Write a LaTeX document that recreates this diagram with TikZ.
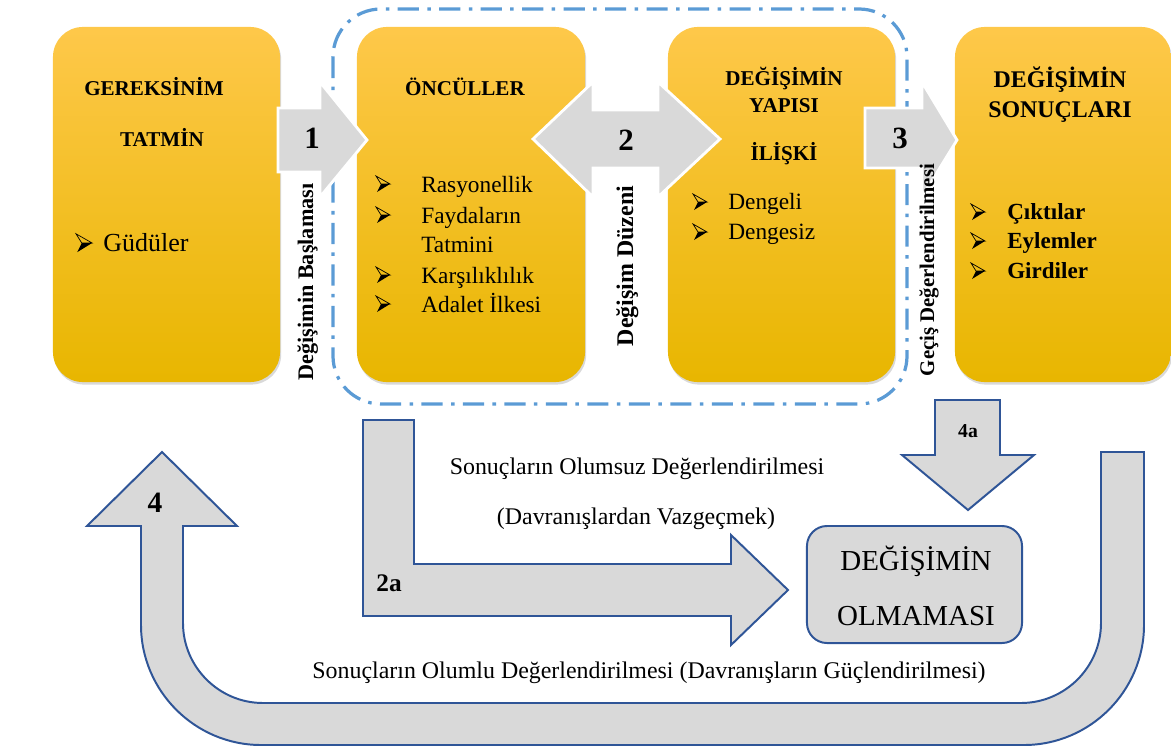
\documentclass[tikz,border=0pt]{standalone}
\usepackage{fontspec}
\setmainfont{Liberation Serif}
\usetikzlibrary{shadows}

\definecolor{oTop}{HTML}{FEC84A}
\definecolor{oMid}{HTML}{FFC000}
\definecolor{oBot}{HTML}{E8B600}
\definecolor{gfill}{HTML}{D9D9D9}
\definecolor{bline}{HTML}{2F5597}
\definecolor{dline}{HTML}{5B9BD5}

\tikzset{
  obox/.style={rounded corners=0.75cm, top color=oTop, middle color=oMid, bottom color=oBot,
    minimum height=8.875cm, drop shadow={opacity=.3, shadow xshift=.8pt, shadow yshift=-1.8pt}},
  warrow/.style={fill=gfill, draw=white, line width=2pt},
  barrow/.style={fill=gfill, draw=bline, line width=1.4pt},
  tit/.style={font=\bfseries\fontsize{15}{15}\selectfont, inner sep=0pt, anchor=base},
  itm/.style={font=\fontsize{16.6}{16.6}\selectfont, inner sep=0pt, anchor=base west},
  num/.style={font=\bfseries\fontsize{22}{22}\selectfont, inner sep=0pt, anchor=base},
  vlab/.style={rotate=90, inner sep=0pt, anchor=base},
  alt/.style={font=\fontsize{17}{17}\selectfont, inner sep=0pt, anchor=base},
  okuc/.pic={
    \draw[line width=.5pt, line join=miter] (0,-8) -- (14,0) -- (5,0) -- cycle;
    \fill (5,0) -- (14,0) -- (1,8) -- cycle;
  }
}

\begin{document}
\begin{tikzpicture}[x=0.025cm, y=-0.025cm]
  \useasboundingbox (0,0) rectangle (1171,751);

  % boxes
  \node[obox, minimum width=5.675cm] (gereksinim) at (166.5,204.5) {};
  \node[obox, minimum width=5.7cm] (onculler) at (471,204.5) {};
  \node[obox, minimum width=5.675cm] (yapi) at (781.5,204.5) {};
  \node[obox, minimum width=5.4cm] (sonuc) at (1063,204.5) {};

  \draw[dline, line width=2.3pt, dash pattern=on 15pt off 6pt on 2.5pt off 6pt,
    rounded corners=1.2cm] (333,9) rectangle (907,404);

  % 1, 2, 3
  \draw[warrow] (278,108) -- (320,108) -- (320,82) -- (367,140) -- (320,197)
    -- (320,172) -- (278,172) -- cycle;
  \draw[warrow] (533,139) -- (593,82) -- (593,110) -- (658,110) -- (658,82)
    -- (720,139) -- (658,197) -- (658,168) -- (593,168) -- (593,197) -- cycle;
  \draw[warrow] (865,108) -- (922,108) -- (922,82) -- (957,140) -- (922,197)
    -- (922,168) -- (865,168) -- cycle;
  \node[num] (n1) at (312,148) {1};
  \node[num] (n2) at (626,150) {2};
  \node[num] (n3) at (900,148) {3};

  \node[vlab, font=\bfseries\fontsize{15.8}{15.8}\selectfont] (baslama) at (313,282) {Değişimin Başlaması};
  \node[vlab, font=\bfseries\fontsize{17}{17}\selectfont] (duzen) at (633,266) {Değişim Düzeni};
  \node[vlab, font=\bfseries\fontsize{14.8}{14.8}\selectfont] (gecis) at (934,270) {Geçiş Değerlendirilmesi};

  % box texts
  \node[tit] (gerek) at (154,95) {GEREKSİNİM};
  \node[tit] (tatmin) at (162,146) {TATMİN};
  \pic[scale=1.15] at (76,243) {okuc};
  \node[itm, font=\fontsize{18.5}{18.5}\selectfont] (gudu) at (103,251) {Güdüler};

  \node[tit] (onc) at (465,95) {ÖNCÜLLER};
  \foreach \t/\y [count=\i] in {Rasyonellik/192, Faydaların/223, Karşılıklılık/283, Adalet İlkesi/312}{
    \pic at (376,\y-8) {okuc};
    \node[itm] (oi\i) at (421,\y) {\t};
  }
  \node[itm] (tatmini) at (421,252) {Tatmini};

  \node[tit] (yap1) at (784,85) {DEĞİŞİMİN};
  \node[tit] (yap2) at (784,112) {YAPISI};
  \node[tit] (iliski) at (784,160) {İLİŞKİ};
  \foreach \t/\y [count=\i] in {Dengeli/209, Dengesiz/239}{
    \pic at (693,\y-7) {okuc};
    \node[itm] (yi\i) at (728,\y) {\t};
  }

  \node[tit, font=\bfseries\fontsize{17}{17}\selectfont] (son1) at (1060,87) {DEĞİŞİMİN};
  \node[tit, font=\bfseries\fontsize{17}{17}\selectfont] (son2) at (1060,117) {SONUÇLARI};
  \foreach \t/\y [count=\i] in {Çıktılar/219, Eylemler/248, Girdiler/278}{
    \pic at (971,\y-7) {okuc};
    \node[itm, font=\bfseries\fontsize{16.4}{16.4}\selectfont] (si\i) at (1007,\y) {\t};
  }

  % lower part
  \draw[barrow] (363,420) -- (414,420) -- (414,564) -- (731,564) -- (731,535) -- (788,590)
    -- (731,645) -- (731,616) -- (363,616) -- cycle;
  \draw[barrow] (935,400) -- (1000,400) -- (1000,455) -- (1034,455) -- (968,510)
    -- (902,455) -- (935,455) -- cycle;
  \draw[barrow] (1101,452) -- (1144,452) -- (1144,625) .. controls (1144,691) and (1090,745) .. (1024,745)
    -- (261,745) .. controls (195,745) and (141,691) .. (141,625) -- (141,526) -- (87,526)
    -- (162,452) -- (237,526) -- (183,526) -- (183,623) .. controls (183,667) and (219,703) .. (263,703)
    -- (1021,703) .. controls (1065,703) and (1101,667) .. (1101,623) -- cycle;

  \node[barrow, rounded corners=0.5cm, minimum width=5.375cm, minimum height=2.925cm] (olmama) at (914.5,584.5) {};
  \node[alt, font=\fontsize{20.6}{20.6}\selectfont] (olm1) at (916,570) {DEĞİŞİMİN};
  \node[alt, font=\fontsize{20.6}{20.6}\selectfont] (olm2) at (916,625) {OLMAMASI};

  \node[num, font=\bfseries\fontsize{18}{18}\selectfont] (n2a) at (389,591) {2a};
  \node[num, font=\bfseries\fontsize{14}{14}\selectfont] (n4a) at (968,437) {4a};
  \node[num, font=\bfseries\fontsize{21}{21}\selectfont] (n4) at (155,512) {4};

  \node[alt] (olumsuz) at (637,474) {Sonuçların Olumsuz Değerlendirilmesi};
  \node[alt] (vazgec) at (636,524) {(Davranışlardan Vazgeçmek)};
  \node[alt] (olumlu) at (649,678) {Sonuçların Olumlu Değerlendirilmesi (Davranışların Güçlendirilmesi)};
\end{tikzpicture}
\end{document}
